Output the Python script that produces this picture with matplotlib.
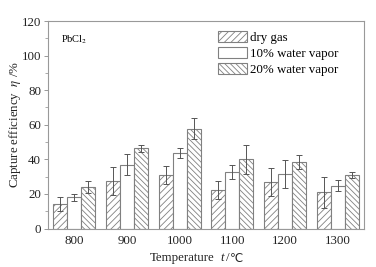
import matplotlib.pyplot as plt
import numpy as np
from matplotlib.ticker import MultipleLocator

# Data
temps = ['800', '900', '1000', '1100', '1200', '1300']
dry = [14.3, 27.4, 31.0, 22.3, 27.0, 21.0]
dry_err = [4.0, 8.0, 5.2, 5.2, 8.2, 9.0]
vap10 = [18.0, 37.0, 43.5, 32.5, 31.5, 24.8]
vap10_err = [2.0, 6.0, 3.0, 4.0, 8.0, 3.0]
vap20 = [24.0, 46.4, 57.8, 40.0, 38.4, 31.0]
vap20_err = [3.2, 2.0, 6.0, 8.2, 4.0, 1.8]

plt.rcParams['font.family'] = ['Liberation Serif', 'DejaVu Sans']
plt.rcParams['mathtext.fontset'] = 'stix'
plt.rcParams['hatch.color'] = '#555555'
plt.rcParams['hatch.linewidth'] = 0.6

fig = plt.figure(figsize=(3.76, 2.67), dpi=100)
ax = fig.add_axes([48 / 376, 1 - 228.5 / 267, 316 / 376, 207.5 / 267])

x = np.arange(len(temps))
w = 0.266
edge = '#808080'
err_kw = dict(ecolor='#555555', elinewidth=0.7, capsize=2.2, capthick=0.7)

ax.bar(x - w, dry, w, yerr=dry_err, color='white', edgecolor=edge, linewidth=0.8,
       hatch='/////', label='dry gas', error_kw=err_kw)
ax.bar(x, vap10, w, yerr=vap10_err, color='white', edgecolor=edge, linewidth=0.8,
       label='10% water vapor', error_kw=err_kw)
ax.bar(x + w, vap20, w, yerr=vap20_err, color='white', edgecolor=edge, linewidth=0.8,
       hatch='\\\\\\\\\\\\', label='20% water vapor', error_kw=err_kw)

ax.set_xlim(-0.5, 5.5)
ax.set_ylim(0, 120)
ax.set_xticks(x)
ax.set_xticklabels(temps)
ax.yaxis.set_major_locator(MultipleLocator(20))
ax.yaxis.set_minor_locator(MultipleLocator(10))
ax.tick_params(axis='x', length=0, labelsize=9.3, pad=5, labelcolor='#222222')
ax.tick_params(axis='y', which='major', length=3, width=0.6, color='#888888',
               labelsize=9.3, pad=2, labelcolor='#222222')
ax.tick_params(axis='y', which='minor', length=2, width=0.5, color='#888888')

for s in ax.spines.values():
    s.set_color('#999999')
    s.set_linewidth(0.8)

ax.set_ylabel('Capture efficiency  $\\eta$ /%', fontsize=9.3, labelpad=-1, color='#222222')

# x label built from pieces so the italic t and the degree sign both render
fig.text(150 / 376, 1 - 258 / 267, 'Temperature', fontsize=9.3, va='center', ha='left',
         color='#222222')
fig.text(220 / 376, 1 - 258 / 267, 't', fontsize=9.3, va='center', ha='left',
         style='italic', color='#222222')
fig.text(226 / 376, 1 - 258 / 267, '/', fontsize=9.3, va='center', ha='left',
         color='#222222')
fig.text(230 / 376, 1 - 258 / 267, '℃', fontsize=8.5, va='center', ha='left',
         family=['DejaVu Sans'], color='#222222')

ax.text(0.04, 0.94, 'PbCl$_2$', transform=ax.transAxes, fontsize=7.5, va='top')

ax.legend(loc='upper left', bbox_to_anchor=(0.51, 0.995), frameon=False, fontsize=9.3,
          handlelength=2.2, handleheight=0.9, handletextpad=0.3, labelspacing=0.25,
          borderaxespad=0.3)

fig.savefig('out.png', dpi=100)
